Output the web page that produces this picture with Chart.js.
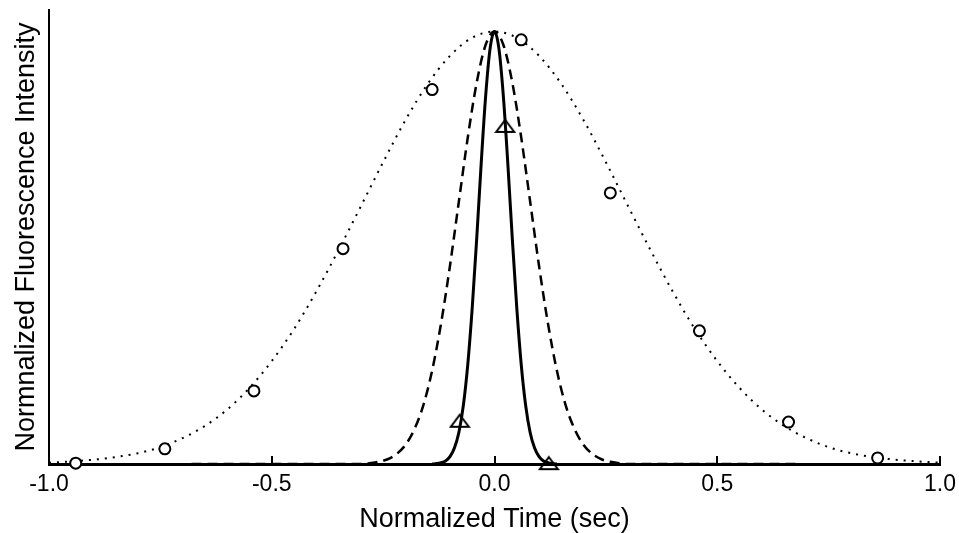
<!doctype html>
<html lang="en">
  <head>
    <meta charset="utf-8">
    <title>Normalized fluorescence</title>
    <script src="https://cdn.jsdelivr.net/npm/chart.js@4.4.0/dist/chart.umd.min.js"></script>
    <style>
      body { margin: 0; background: #fff; }
      canvas { display: block; }
    </style>
  </head>
  <body>
    <canvas id="myChart" width="959" height="533"></canvas>

    <script>
      // wide profile (dotted)
      const dottedTime = [-1.00, -0.95, -0.90, -0.85, -0.80, -0.75, -0.70, -0.65, -0.60, -0.55, -0.50,
        -0.45, -0.40, -0.35, -0.30, -0.25, -0.20, -0.15, -0.10, -0.05, 0.00, 0.05, 0.10, 0.15, 0.20,
        0.25, 0.30, 0.35, 0.40, 0.45, 0.50, 0.55, 0.60, 0.65, 0.70, 0.75, 0.80, 0.85, 0.90, 0.95, 1.00];
      const dottedValue = [0.003, 0.006, 0.010, 0.016, 0.025, 0.039, 0.060, 0.088, 0.126, 0.176, 0.238,
        0.312, 0.399, 0.495, 0.596, 0.698, 0.795, 0.879, 0.944, 0.986, 1.000, 0.986, 0.944, 0.879, 0.795,
        0.698, 0.596, 0.495, 0.399, 0.312, 0.238, 0.176, 0.126, 0.088, 0.060, 0.039, 0.025, 0.016, 0.010, 0.006, 0.003];

      // medium profile (dashed)
      const dashedTime = [-0.68, -0.30, -0.28, -0.26, -0.24, -0.22, -0.20, -0.18, -0.16, -0.14, -0.12,
        -0.10, -0.08, -0.06, -0.04, -0.02, 0.00, 0.02, 0.04, 0.06, 0.08, 0.10, 0.12, 0.14, 0.16, 0.18,
        0.20, 0.22, 0.24, 0.26, 0.28, 0.30, 0.68];
      const dashedValue = [0, 0.000, 0.002, 0.005, 0.011, 0.023, 0.044, 0.080, 0.135, 0.216, 0.325,
        0.458, 0.607, 0.755, 0.882, 0.969, 1.000, 0.969, 0.882, 0.755, 0.607, 0.458, 0.325, 0.216, 0.135, 0.080,
        0.044, 0.023, 0.011, 0.005, 0.002, 0.000, 0];

      // narrow profile (solid)
      const solidTime = [-0.14, -0.13, -0.12, -0.11, -0.10, -0.09, -0.08, -0.07, -0.06, -0.05, -0.04,
        -0.03, -0.02, -0.01, 0.00, 0.01, 0.02, 0.03, 0.04, 0.05, 0.06, 0.07, 0.08, 0.09, 0.10,
        0.11, 0.12, 0.13, 0.14];
      const solidValue = [0.000, 0.001, 0.003, 0.007, 0.017, 0.037, 0.073, 0.135, 0.230, 0.361, 0.520,
        0.693, 0.849, 0.960, 1.000, 0.960, 0.849, 0.693, 0.520, 0.361, 0.230, 0.135, 0.073, 0.037, 0.017,
        0.007, 0.003, 0.001, 0.000];

      // measured points
      const circleTime = [-0.94, -0.74, -0.54, -0.34, -0.14, 0.06, 0.26, 0.46, 0.66, 0.86];
      const circleValue = [0.002, 0.035, 0.169, 0.498, 0.866, 0.981, 0.627, 0.308, 0.097, 0.014];
      const triangleTime = [-0.078, 0.024, 0.122];
      const triangleValue = [0.10, 0.782, 0.002];

      const tickValues = [-1.0, -0.5, 0.0, 0.5, 1.0];
      const tickLabels = ['-1.0', '-0.5', '0.0', '0.5', '1.0'];

      const pts = (xs, ys) => xs.map((x, i) => ({x: x, y: ys[i]}));

      // flat open triangle used as marker
      function makeTriangle() {
        const c = document.createElement('canvas');
        c.width = 22;
        c.height = 16;
        const g = c.getContext('2d');
        g.strokeStyle = '#000';
        g.lineWidth = 2;
        g.beginPath();
        g.moveTo(11, 2);
        g.lineTo(20, 14);
        g.lineTo(2, 14);
        g.closePath();
        g.stroke();
        return c;
      }

      // tick marks pointing up into the plot
      const innerTicks = {
        id: 'innerTicks',
        afterDraw(chart) {
          const ctx = chart.ctx;
          const xs = chart.scales.x;
          const bottom = chart.chartArea.bottom;
          ctx.save();
          ctx.strokeStyle = '#000';
          ctx.lineWidth = 2;
          tickValues.forEach(v => {
            const px = Math.round(xs.getPixelForValue(v));
            ctx.beginPath();
            ctx.moveTo(px, bottom);
            ctx.lineTo(px, bottom - 8);
            ctx.stroke();
          });
          ctx.restore();
        }
      };

      const font = 'Liberation Sans, Arial, Helvetica, sans-serif';

      const myChart = new Chart(document.getElementById('myChart'), {
        type: 'scatter',
        data: {
          datasets: [
            {
              label: 'circles',
              data: pts(circleTime, circleValue),
              pointStyle: 'circle',
              pointRadius: 5.5,
              pointBorderWidth: 2,
              pointBorderColor: '#000',
              pointBackgroundColor: '#fff',
              showLine: false,
              clip: false,
              order: 1
            },
            {
              label: 'triangles',
              data: pts(triangleTime, triangleValue),
              pointStyle: makeTriangle(),
              showLine: false,
              clip: false,
              order: 0
            },
            {
              label: 'dotted',
              data: pts(dottedTime, dottedValue),
              showLine: true,
              borderColor: '#000',
              borderWidth: 2,
              borderDash: [2, 6],
              pointRadius: 0,
              cubicInterpolationMode: 'monotone',
              order: 4
            },
            {
              label: 'dashed',
              data: pts(dashedTime, dashedValue),
              showLine: true,
              borderColor: '#000',
              borderWidth: 2.5,
              borderDash: [10, 6],
              pointRadius: 0,
              cubicInterpolationMode: 'monotone',
              order: 3
            },
            {
              label: 'solid',
              data: pts(solidTime, solidValue),
              showLine: true,
              borderColor: '#000',
              borderWidth: 3,
              pointRadius: 0,
              cubicInterpolationMode: 'monotone',
              order: 2
            }
          ]
        },
        options: {
          responsive: false,
          animation: false,
          events: [],
          layout: {
            padding: {top: 10, right: 19, bottom: 0, left: 0}
          },
          plugins: {
            legend: {display: false},
            tooltip: {enabled: false}
          },
          scales: {
            x: {
              type: 'linear',
              min: -1,
              max: 1,
              afterBuildTicks: s => { s.ticks = tickValues.map(v => ({value: v})); },
              afterFit: s => { s.height = 69; s.paddingLeft = 0; s.paddingRight = 0; },
              grid: {display: false, drawTicks: false},
              border: {display: true, color: '#000', width: 3},
              ticks: {
                color: '#000',
                padding: 7,
                maxRotation: 0,
                autoSkip: false,
                font: {family: font, size: 23},
                callback: (v, i) => tickLabels[i]
              },
              title: {
                display: true,
                text: 'Normalized Time (sec)',
                color: '#000',
                padding: {top: 0, bottom: 0},
                font: {family: font, size: 27, lineHeight: 1}
              }
            },
            y: {
              type: 'linear',
              min: 0,
              max: 1.05,
              afterFit: s => { s.width = 49; },
              grid: {display: false, drawTicks: false},
              border: {display: true, color: '#000', width: 2},
              ticks: {display: false},
              title: {
                display: true,
                text: 'Normnalized Fluorescence Intensity',
                color: '#000',
                padding: {top: 13, bottom: 0},
                font: {family: font, size: 27, lineHeight: 1}
              }
            }
          }
        },
        plugins: [innerTicks]
      });
    </script>
  </body>
</html>
